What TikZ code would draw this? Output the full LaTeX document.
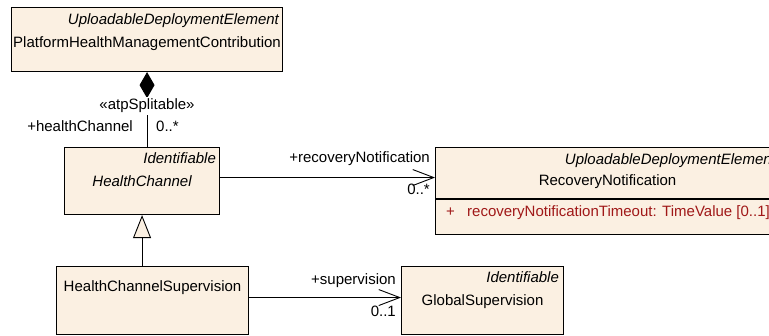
\documentclass[tikz,border=0pt]{standalone}
\usepackage{fontspec}
\setmainfont{Liberation Sans}
\usetikzlibrary{arrows.meta}
\definecolor{eabeige}{RGB}{251,240,226}
\definecolor{eared}{RGB}{160,24,24}

\begin{document}
\begin{tikzpicture}[
    x=1pt, y=-1pt,
    font=\fontsize{15}{17}\selectfont,
    cls/.style={draw, fill=eabeige, line width=1.1pt, anchor=north west,
                inner sep=0pt},
    txt/.style={anchor=base, inner sep=0pt},
    hdr/.style={anchor=base east, inner sep=0pt,
                font=\fontsize{15}{17}\selectfont\itshape},
    lbl/.style={inner sep=0pt},
    comp/.style={{Diamond[length=26pt,width=15pt]}-, line width=0.9pt},
    gen/.style={-{Triangle[length=23pt,width=18pt,fill=eabeige]}, line width=0.9pt},
    assoc/.style={-{Straight Barb[length=21pt,width=16pt]}, line width=0.9pt}
  ]
  \clip (0,0) rectangle (769,336);

  \node[cls, minimum width=271pt, minimum height=64pt] (phm) at (11,7) {};
  \node[hdr] (phmst) at ([shift={(-4,18)}]phm.north east) {UploadableDeploymentElement};
  \node[txt] (phmname) at ([shift={(0,41)}]phm.north) {PlatformHealthManagementContribution};

  \node[cls, minimum width=155pt, minimum height=67pt] (hc) at (64,147) {};
  \node[hdr] (hcst) at ([shift={(-4,17)}]hc.north east) {Identifiable};
  \node[txt, font=\fontsize{15}{17}\selectfont\itshape] (hcname) at ([shift={(0,40)}]hc.north) {HealthChannel};

  \node[cls, minimum width=192pt, minimum height=68pt] (hcs) at (56,266) {};
  \node[txt] (hcsname) at ([shift={(0,26)}]hcs.north) {HealthChannelSupervision};

  \node[cls, minimum width=344pt, minimum height=87pt] (rn) at (435,147) {};
  \node[hdr] (rnst) at ([shift={(-4,18)}]rn.north east) {UploadableDeploymentElement};
  \node[txt] (rnname) at ([shift={(0,39)}]rn.north) {RecoveryNotification};
  \draw[line width=1.1pt] ([yshift=-52pt]rn.north west) -- ([yshift=-52pt]rn.north east);
  \node[lbl, anchor=base west, text=eared] (rnplus) at (446,217) {+};
  \node[lbl, anchor=base west, text=eared] (rnattr) at (467,217) {recoveryNotificationTimeout: TimeValue [0..1]};

  \node[cls, minimum width=162pt, minimum height=68pt] (gs) at (401,266) {};
  \node[hdr] (gsst) at ([shift={(-5,17)}]gs.north east) {Identifiable};
  \node[txt] (gsname) at ([shift={(0,40)}]gs.north) {GlobalSupervision};

  \draw[comp] (phm.south) -- (phm.south |- hc.north);
  \node[lbl, anchor=base, fill=white, inner ysep=2pt] (split) at (147,110) {«atpSplitable»};
  \node[lbl, anchor=base east] (hcrole) at (133,132) {+healthChannel};
  \node[lbl, anchor=base west] (hcmult) at (156,132) {0..*};

  \draw[gen] (hc.south |- hcs.north) -- (hc.south);

  \draw[assoc] ([yshift=3.5pt]hc.east) -- ([yshift=3.5pt]hc.east -| rn.west);
  \node[lbl, anchor=base east] (rnrole) at (430,163) {+recoveryNotification};
  \node[lbl, anchor=base east] (rnmult) at (430,195) {0..*};

  \draw[assoc] ([yshift=3pt]hcs.east) -- ([yshift=3pt]hcs.east -| gs.west);
  \node[lbl, anchor=base east] (gsrole) at (396,285) {+supervision};
  \node[lbl, anchor=base east] (gsmult) at (396,317) {0..1};
\end{tikzpicture}
\end{document}
